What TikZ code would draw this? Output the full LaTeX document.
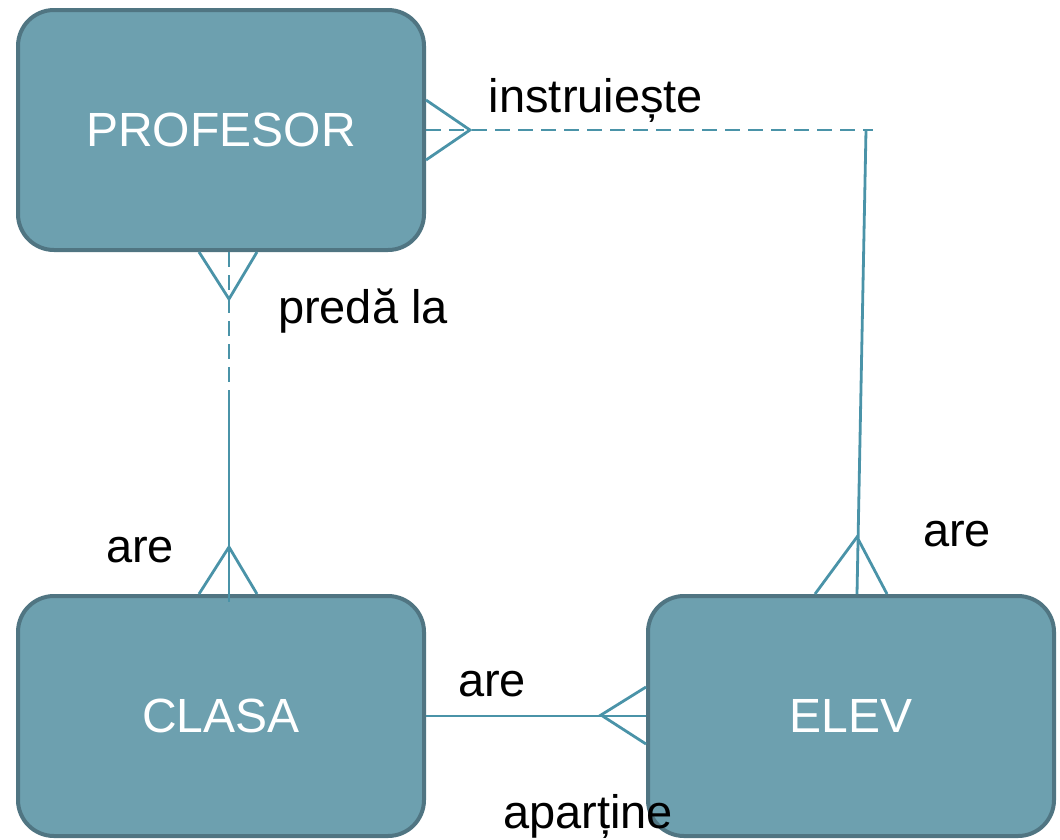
\documentclass[tikz,border=0pt]{standalone}
\usepackage{fontspec}
\setmainfont{Liberation Sans}
\usetikzlibrary{calc}
\definecolor{boxfill}{HTML}{6DA0AF}
\definecolor{boxline}{HTML}{507582}
\definecolor{link}{HTML}{4A93A8}
\tikzset{
  entity/.style={draw=boxline, fill=boxfill, line width=4pt, rounded corners=36pt,
    minimum width=406pt, minimum height=240pt, inner sep=0pt, text=white,
    font=\fontsize{48}{52}\selectfont},
  rel/.style={draw=link, line width=2.8pt},
  dashrel/.style={rel, dash pattern=on 15pt off 8pt},
  lbl/.style={font=\fontsize{47}{51}\selectfont, text=black, inner sep=0pt, anchor=base}
}
\begin{document}
\begin{tikzpicture}[x=1pt, y=-1pt]
  \useasboundingbox (0,0) rectangle (1060,839);

  % entities
  \node[entity] (prof)  at (221,130) {PROFESOR};
  \node[entity] (clasa) at (221,716) {CLASA};
  \node[entity] (elev)  at (851,716) {ELEV};

  % PROFESOR -- ELEV (instruieste)
  \coordinate (icorner) at (873,130);
  \draw[dashrel] (prof.east) -- (icorner);
  \draw[rel] ($(prof.east)+(0,-30)$) -- ($(prof.east)+(44,0)$) -- ($(prof.east)+(0,30)$);
  \draw[rel] ($(icorner)+(-7,0)$) -- ($(elev.north)+(6,0)$);
  \draw[rel] ($(elev.north)+(-36,0)$) -- ($(elev.north)+(6,-57)$) -- ($(elev.north)+(36,0)$);

  % PROFESOR -- CLASA (preda la)
  \coordinate (pmid) at (229,422);
  \coordinate (pjoin) at (229,404);
  \draw[dashrel] ($(prof.south)+(8,0)$) -- (pmid);
  \draw[rel] (pjoin) -- ($(clasa.north)+(8,8)$);
  \draw[rel] ($(prof.south)+(-22,0)$) -- ($(prof.south)+(8,47)$) -- ($(prof.south)+(36,0)$);
  \draw[rel] ($(clasa.north)+(-22,0)$) -- ($(clasa.north)+(8,-47)$) -- ($(clasa.north)+(36,0)$);

  % CLASA -- ELEV
  \draw[rel] (clasa.east) -- (elev.west);
  \draw[rel] ($(elev.west)+(0,-29)$) -- ($(elev.west)+(-45,-1)$) -- ($(elev.west)+(0,28)$);

  % relationship labels
  \node[lbl] (linstr) at (596,112) {instruiește};
  \node[lbl] (lpred)  at (363,323) {predă la};
  \node[lbl] (lare1)  at (140,562) {are};
  \node[lbl] (lare2)  at (957,546) {are};
  \node[lbl] (lare3)  at (492,696) {are};
  \node[lbl] (lapar)  at (588,828) {aparține};
\end{tikzpicture}
\end{document}
